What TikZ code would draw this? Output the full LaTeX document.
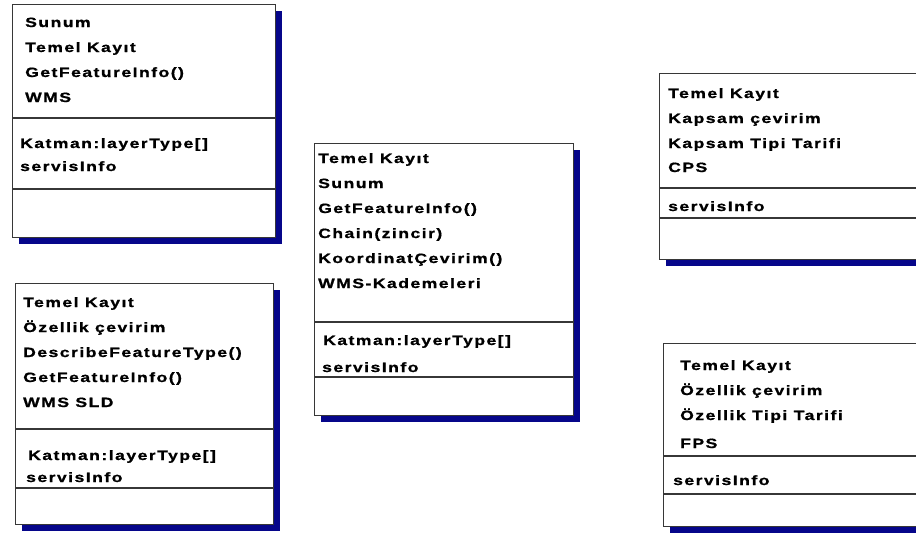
\documentclass[tikz,border=0pt]{standalone}
\usepackage{fontspec}
\newfontfamily\umlfont{Liberation Sans}[FakeStretch=1.3,LetterSpace=11,FakeBold=1]
\usetikzlibrary{shadows}
\definecolor{shadenavy}{RGB}{6,6,138}
\definecolor{framegray}{RGB}{55,55,55}

\tikzset{
  classbox/.style={draw=framegray, line width=1.1pt, fill=white, anchor=north west,
    inner sep=0pt, general shadow={fill=shadenavy, shadow xshift=6pt, shadow yshift=-6pt}},
  divline/.style={draw=framegray, line width=1.1pt},
  lbl/.style={anchor=base west, inner sep=0pt, font=\umlfont\bfseries\fontsize{13.5}{15}\selectfont}
}

\begin{document}
\begin{tikzpicture}[x=1pt,y=-1pt]
\useasboundingbox (0,0) rectangle (916,533);
\clip (0,0) rectangle (916,533);

% WMS
\node[classbox, minimum width=263pt, minimum height=233pt] (wms) at (12,4) {};
\draw[divline] (wms.west |- 0,118) -- (wms.east |- 0,118);
\draw[divline] (wms.west |- 0,189) -- (wms.east |- 0,189);
\node[lbl] (wms1) at (25,27) {Sunum};
\node[lbl] (wms2) at (25,52) {Temel Kayıt};
\node[lbl] (wms3) at (25,77) {GetFeatureInfo()};
\node[lbl] (wms4) at (25,102) {WMS};
\node[lbl] (wms5) at (20,148) {Katman:layerType[]};
\node[lbl] (wms6) at (20,171) {servisInfo};

% WMS SLD
\node[classbox, minimum width=258pt, minimum height=241pt] (sld) at (15,283) {};
\draw[divline] (sld.west |- 0,429) -- (sld.east |- 0,429);
\draw[divline] (sld.west |- 0,488) -- (sld.east |- 0,488);
\node[lbl] (sld1) at (23,307) {Temel Kayıt};
\node[lbl] (sld2) at (23,332) {Özellik çevirim};
\node[lbl] (sld3) at (23,357) {DescribeFeatureType()};
\node[lbl] (sld4) at (23,382) {GetFeatureInfo()};
\node[lbl] (sld5) at (23,407) {WMS SLD};
\node[lbl] (sld6) at (28,460) {Katman:layerType[]};
\node[lbl] (sld7) at (26,482) {servisInfo};

% WMS-Kademeleri
\node[classbox, minimum width=259pt, minimum height=272pt] (kad) at (314,143) {};
\draw[divline] (kad.west |- 0,322) -- (kad.east |- 0,322);
\draw[divline] (kad.west |- 0,377) -- (kad.east |- 0,377);
\node[lbl] (kad1) at (318,163) {Temel Kayıt};
\node[lbl] (kad2) at (318,188) {Sunum};
\node[lbl] (kad3) at (318,213) {GetFeatureInfo()};
\node[lbl] (kad4) at (318,238) {Chain(zincir)};
\node[lbl] (kad5) at (318,263) {KoordinatÇevirim()};
\node[lbl] (kad6) at (318,288) {WMS-Kademeleri};
\node[lbl] (kad7) at (323,345) {Katman:layerType[]};
\node[lbl] (kad8) at (322,372) {servisInfo};

% CPS
\node[classbox, minimum width=280pt, minimum height=186pt] (cps) at (659,73) {};
\draw[divline] (cps.west |- 0,188) -- (cps.east |- 0,188);
\draw[divline] (cps.west |- 0,218) -- (cps.east |- 0,218);
\node[lbl] (cps1) at (668,98) {Temel Kayıt};
\node[lbl] (cps2) at (668,123) {Kapsam çevirim};
\node[lbl] (cps3) at (668,148) {Kapsam Tipi Tarifi};
\node[lbl] (cps4) at (668,172) {CPS};
\node[lbl] (cps5) at (668,211) {servisInfo};

% FPS
\node[classbox, minimum width=280pt, minimum height=183pt] (fps) at (663,343) {};
\draw[divline] (fps.west |- 0,456) -- (fps.east |- 0,456);
\draw[divline] (fps.west |- 0,494) -- (fps.east |- 0,494);
\node[lbl] (fps1) at (680,370) {Temel Kayıt};
\node[lbl] (fps2) at (680,395) {Özellik çevirim};
\node[lbl] (fps3) at (680,420) {Özellik Tipi Tarifi};
\node[lbl] (fps4) at (680,448) {FPS};
\node[lbl] (fps5) at (673,485) {servisInfo};
\end{tikzpicture}
\end{document}
